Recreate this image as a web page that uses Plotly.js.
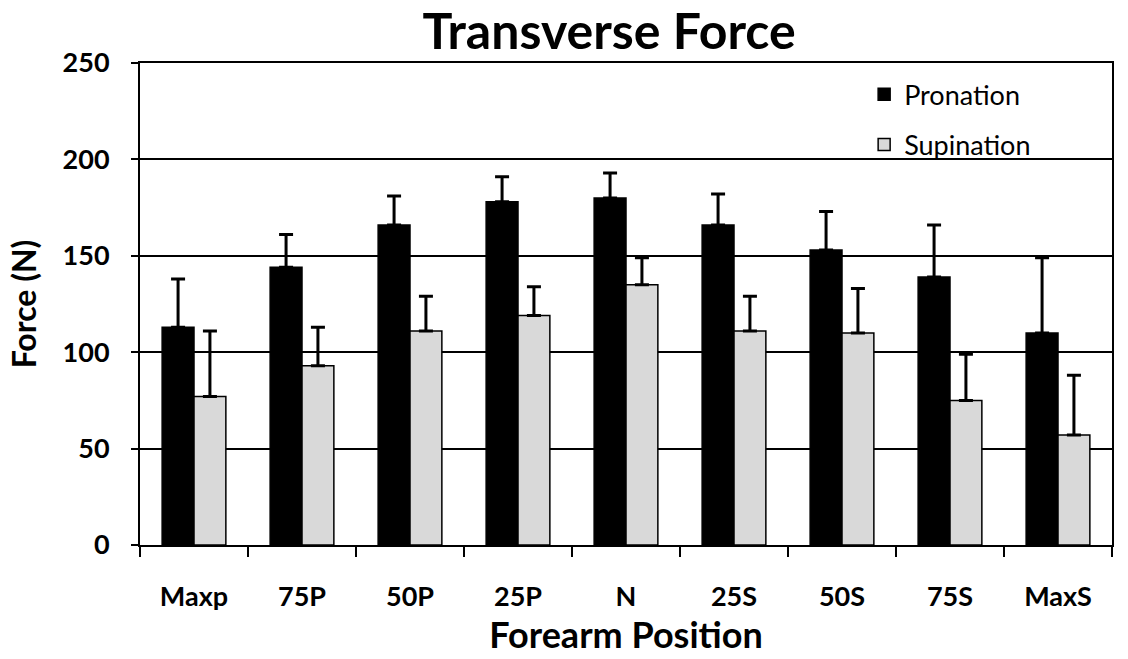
<!DOCTYPE html>
<html>
<head>
<meta charset="utf-8">
<script src="https://cdn.plot.ly/plotly-3.0.1.min.js"></script>
<style>html,body{margin:0;padding:0;background:#fff;}#chart{width:1128px;height:659px;}</style>
</head>
<body>
<div id="chart"></div>
<script>
const categories = ["Maxp", "75P", "50P", "25P", "N", "25S", "50S", "75S", "MaxS"];
const pronation = [113, 144, 166, 178, 180, 166, 153, 139, 110];
const pronationErr = [25, 17, 15, 13, 13, 16, 20, 27, 39];
const supination = [77, 93, 111, 119, 135, 111, 110, 75, 57];
const supinationErr = [34, 20, 18, 15, 14, 18, 23, 24, 31];
const yTicks = [0, 50, 100, 150, 200, 250];

const FONT = "Lato, 'Open Sans', sans-serif";

const traces = [
  {
    type: "bar", name: "Pronation", x: categories, y: pronation,
    legendgroup: "p",
    marker: {color: "#000000", line: {color: "#000000", width: 1.5}},
    error_y: {type: "data", array: pronationErr, symmetric: false, arrayminus: categories.map(() => 0), color: "#000000", thickness: 3, width: 7}
  },
  {
    type: "bar", name: "Supination", x: categories, y: supination,
    legendgroup: "s",
    marker: {color: "#d9d9d9", line: {color: "#000000", width: 1.5}},
    error_y: {type: "data", array: supinationErr, symmetric: false, arrayminus: categories.map(() => 0), color: "#000000", thickness: 3, width: 7}
  }
];

const layout = {
  width: 1128, height: 659,
  margin: {l: 140, r: 16, t: 63, b: 114},
  paper_bgcolor: "#ffffff", plot_bgcolor: "#ffffff",
  font: {family: FONT, color: "#000000"},
  title: {text: "<b>Transverse Force</b>", font: {family: FONT, size: 50, color: "#000"}, x: 0.54, xanchor: "center", y: 0.952, yanchor: "middle"},
  barmode: "group",
  bargap: 0.41, bargroupgap: 0,
  showlegend: true,
  legend: {x: 0.745, y: 0.985, xanchor: "left", yanchor: "top", bgcolor: "rgba(0,0,0,0)", font: {family: FONT, size: 27, color: "#000"}, tracegroupgap: 12, traceorder: "grouped", itemwidth: 30},
  xaxis: {
    type: "category", tickson: "boundaries", ticks: "outside", ticklen: 10, tickwidth: 2, tickcolor: "#000",
    showline: true, linecolor: "#000", linewidth: 2, mirror: true, showgrid: false,
    tickfont: {family: FONT, size: 27, color: "#000", weight: "bold"},
    ticklabelstandoff: 27,
    title: {text: "<b>Forearm Position</b>", font: {family: FONT, size: 36, color: "#000"}, standoff: 9}
  },
  yaxis: {
    range: [0, 250], tickvals: yTicks, ticks: "outside", ticklen: 7, tickwidth: 2, tickcolor: "#000",
    showline: true, linecolor: "#000", linewidth: 2, mirror: true,
    showgrid: true, gridcolor: "#000", gridwidth: 2, zeroline: false,
    tickfont: {family: FONT, size: 27, color: "#000", weight: "bold"},
    ticklabelstandoff: 16,
    title: {text: "<b>Force (N)</b>", font: {family: FONT, size: 32, color: "#000"}, standoff: 16}
  }
};

Plotly.newPlot("chart", traces, layout, {displayModeBar: false, staticPlot: true});
</script>
</body>
</html>
